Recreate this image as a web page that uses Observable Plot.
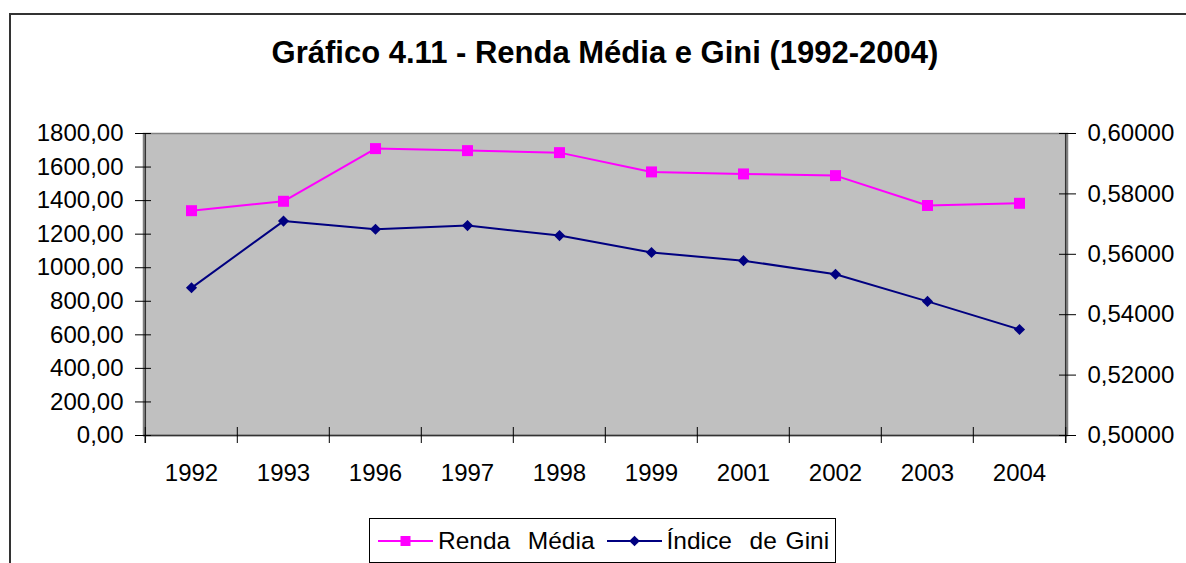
<!DOCTYPE html>
<html>
<head>
<meta charset="utf-8">
<script src="https://cdn.jsdelivr.net/npm/d3@7"></script>
<script src="https://cdn.jsdelivr.net/npm/@observablehq/plot@0.6"></script>
<style>
  html, body { margin: 0; padding: 0; background: #fff; }
  body { font-family: "Liberation Sans", Arial, Helvetica, sans-serif; }
  #wrap { position: relative; width: 1186px; height: 563px; overflow: hidden; }
  #border { position: absolute; left: 9px; top: 13px; width: 1200px; height: 600px; border-left: 2px solid #333; border-top: 2px solid #333; box-sizing: border-box; }
  #chart { position: absolute; left: 0; top: 0; }
  #title { position: absolute; left: 105px; width: 1000px; top: 38px; text-align: center; font-weight: bold; font-size: 31px; line-height: 30px; color: #000; }
  #legend { position: absolute; left: 369px; top: 518px; width: 467px; height: 45px; border: 1px solid #000; box-sizing: border-box; background: #fff; display: flex; align-items: center; font-size: 24.5px; word-spacing: 2px; color: #000; white-space: pre; }
  #legend .item { display: flex; align-items: center; }
  #legend svg { display: block; }
</style>
</head>
<body>
<div id="wrap">
  <div id="border"></div>
  <div id="chart"></div>
  <div id="title">Gráfico 4.11 - Renda Média e Gini (1992-2004)</div>
  <div id="legend"></div>
</div>
<script>
// ---- data ----
const years = [1992, 1993, 1996, 1997, 1998, 1999, 2001, 2002, 2003, 2004];
const rendaMedia = [1340, 1396, 1710, 1698, 1686, 1571, 1559, 1549, 1371, 1384];
const indiceGini = [0.5489, 0.5710, 0.5683, 0.5695, 0.5662, 0.5606, 0.5579, 0.5534, 0.5444, 0.5351];
const leftTicks = [0, 200, 400, 600, 800, 1000, 1200, 1400, 1600, 1800];
const rightTicks = [0.50, 0.52, 0.54, 0.56, 0.58, 0.60];
const seriesNames = ["Renda  Média", "Índice  de Gini"];
const seriesColors = ["#ff00ff", "#000080"];

// ---- layout ----
const W = 1186, H = 563;
const mL = 143, mR = 119, mT = 133, mB = 128;
const plotW = W - mL - mR, plotH = H - mT - mB;
const step = plotW / years.length;

const yMax = leftTicks[leftTicks.length - 1];
const gMin = rightTicks[0], gMax = rightTicks[rightTicks.length - 1];
const gToY = g => (g - gMin) / (gMax - gMin) * yMax;
const yToG = y => gMin + y / yMax * (gMax - gMin);

const data = years.map((yr, i) => ({year: yr, renda: rendaMedia[i], gini: gToY(indiceGini[i])}));
const fmtL = d => d.toFixed(2).replace(".", ",");
const fmtR = d => yToG(d).toFixed(5).replace(".", ",");
const axisColor = "#333";

const chart = Plot.plot({
  width: W, height: H,
  marginLeft: mL, marginRight: mR, marginTop: mT, marginBottom: mB,
  style: {fontFamily: '"Liberation Sans", Arial, sans-serif', fontSize: "24px", color: "#000", background: "transparent", overflow: "visible"},
  x: {type: "point", domain: years, padding: 0.5},
  y: {domain: [0, yMax]},
  marks: [
    Plot.frame({fill: "#c0c0c0", stroke: "#808080", strokeWidth: 1.5}),
    // axes lines
    Plot.ruleY([0], {stroke: axisColor, strokeWidth: 1.5}),
    Plot.ruleX([years[0]], {dx: -step / 2, stroke: axisColor, strokeWidth: 1.5, insetBottom: -8}),
    Plot.ruleX([years[years.length - 1]], {dx: step / 2, stroke: axisColor, strokeWidth: 1.5, insetBottom: -8}),
    // category boundary ticks
    Plot.ruleX(years, {dx: -step / 2, stroke: "#000", strokeWidth: 1, insetTop: plotH - 8, insetBottom: -8}),
    Plot.ruleX([years[years.length - 1]], {dx: step / 2, stroke: "#000", strokeWidth: 1, insetTop: plotH - 8, insetBottom: -8}),
    // left value ticks
    Plot.ruleY(leftTicks, {stroke: "#000", strokeWidth: 1, insetLeft: -8, insetRight: plotW - 8}),
    // right value ticks
    Plot.ruleY(rightTicks.map(gToY), {stroke: "#000", strokeWidth: 1, insetLeft: plotW - 8, insetRight: -9}),
    Plot.axisY({anchor: "left", ticks: leftTicks, tickFormat: fmtL, tickSize: 0, tickPadding: 20, label: null, fontSize: 24}),
    Plot.axisY({anchor: "right", ticks: rightTicks.map(gToY), tickFormat: fmtR, tickSize: 0, tickPadding: 20, label: null, fontSize: 24}),
    Plot.axisX({anchor: "bottom", tickSize: 0, tickPadding: 28, tickFormat: d => String(d), label: null, fontSize: 24}),
    // series
    Plot.line(data, {x: "year", y: "renda", stroke: seriesColors[0], strokeWidth: 2}),
    Plot.dot(data, {x: "year", y: "renda", symbol: "square", r: 6.2, fill: seriesColors[0], stroke: "none"}),
    Plot.line(data, {x: "year", y: "gini", stroke: seriesColors[1], strokeWidth: 2}),
    Plot.dot(data, {x: "year", y: "gini", symbol: "diamond2", r: 5, fill: seriesColors[1], stroke: "none"})
  ]
});
document.getElementById("chart").appendChild(chart);

// ---- legend ----
const legend = document.getElementById("legend");
const symbols = ["square", "diamond"];
seriesNames.forEach((name, i) => {
  const item = document.createElement("div");
  item.className = "item";
  item.style.marginLeft = i === 0 ? "8px" : "12px";
  const ns = "http://www.w3.org/2000/svg";
  const svg = document.createElementNS(ns, "svg");
  svg.setAttribute("width", 55); svg.setAttribute("height", 20);
  const ln = document.createElementNS(ns, "line");
  ln.setAttribute("x1", 0); ln.setAttribute("x2", 55); ln.setAttribute("y1", 10); ln.setAttribute("y2", 10);
  ln.setAttribute("stroke", seriesColors[i]); ln.setAttribute("stroke-width", 2);
  svg.appendChild(ln);
  const sym = document.createElementNS(ns, "path");
  const sz = symbols[i] === "square" ? 100 : 72;
  const sType = symbols[i] === "square" ? d3.symbolSquare : d3.symbolDiamond2;
  sym.setAttribute("d", d3.symbol(sType, sz)());
  sym.setAttribute("transform", "translate(27.5,10)");
  sym.setAttribute("fill", seriesColors[i]);
  svg.appendChild(sym);
  item.appendChild(svg);
  const t = document.createElement("span");
  t.textContent = name;
  t.style.marginLeft = "5px";
  item.appendChild(t);
  legend.appendChild(item);
});
</script>
</body>
</html>
